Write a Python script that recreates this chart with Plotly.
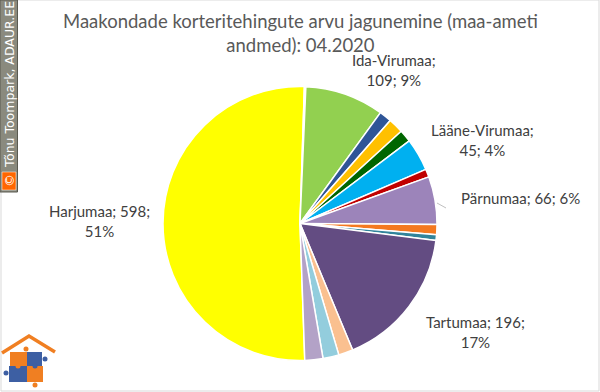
import plotly.graph_objects as go

# ---- data ----
counties = ["Harjumaa", "Hiiumaa", "Ida-Virumaa", "Jõgevamaa", "Järvamaa", "Läänemaa",
            "Lääne-Virumaa", "Põlvamaa", "Pärnumaa", "Raplamaa", "Saaremaa", "Tartumaa",
            "Valgamaa", "Viljandimaa", "Võrumaa"]
deals = [598, 2, 109, 17, 21, 17, 45, 11, 66, 14, 8, 196, 20, 22, 25]
labelled = ["Harjumaa", "Ida-Virumaa", "Lääne-Virumaa", "Pärnumaa", "Tartumaa"]
title_text = "Maakondade korteritehingute arvu jagunemine (maa-ameti<br>andmed): 04.2020"
credit_text = "Tõnu Toompark, ADAUR.EE"

# ---- style ----
colors = ["#FFFF00", "#FFFFFF", "#92D050", "#2F5597", "#FFC000", "#006600",
          "#00B0F0", "#C00000", "#9C84BA", "#F47920", "#31849B", "#634C82",
          "#FAC090", "#93CDDD", "#B3A2C7"]

W, H = 600, 392
def px(x): return x / W
def py(y): return 1 - y / H

total = sum(deals)
def pct(v): return round(v / total * 100)

# label layout: (center x, center y, break after name?, break after value?)
label_pos = {
    "Harjumaa": (99.5, 221, False, True),
    "Ida-Virumaa": (394, 70, True, False),
    "Lääne-Virumaa": (482, 140, True, False),
    "Pärnumaa": (520, 198, False, False),
    "Tartumaa": (475, 332, False, True),
}

fig = go.Figure()
fig.add_trace(go.Pie(
    labels=counties, values=deals, sort=False, direction="clockwise", rotation=178,
    marker=dict(colors=colors, line=dict(color="white", width=1.5)),
    textinfo="none", hoverinfo="label+value+percent",
    domain=dict(x=[px(163), px(437)], y=[py(361), py(86)]),
    showlegend=False,
))

annotations = [dict(
    text=title_text, x=px(300), y=py(33), xref="paper", yref="paper",
    xanchor="center", yanchor="middle", showarrow=False,
    font=dict(family="Lato", size=18.5, color="#595959"))]

for name in labelled:
    v = deals[counties.index(name)]
    cx, cy, b1, b2 = label_pos[name]
    s1 = "<br>" if b1 else " "
    s2 = "<br>" if b2 else " "
    txt = f"{name};{s1}{v};{s2}{pct(v)}%"
    annotations.append(dict(
        text=txt, x=px(cx), y=py(cy), xref="paper", yref="paper",
        xanchor="center", yanchor="middle", showarrow=False, align="center",
        font=dict(family="Lato", size=15, color="#404040")))

annotations.append(dict(
    text=credit_text, x=px(9), y=py(85), xref="paper", yref="paper", textangle=-90,
    xanchor="center", yanchor="middle", showarrow=False,
    font=dict(family="DejaVu Sans", size=12.5, color="white")))
annotations.append(dict(
    text="©", x=px(9), y=py(181), xref="paper", yref="paper", textangle=-90,
    xanchor="center", yanchor="middle", showarrow=False,
    font=dict(family="DejaVu Sans", size=13, color="white")))

shapes = [
    # outer border
    dict(type="rect", x0=px(1), x1=px(599), y0=py(391), y1=py(0), xref="paper", yref="paper",
         line=dict(color="#D9D9D9", width=1), fillcolor="rgba(0,0,0,0)"),
    # credit panel
    dict(type="rect", x0=px(0), x1=px(17.5), y0=py(192), y1=py(0), xref="paper", yref="paper",
         line=dict(color="#5a5a50", width=1), fillcolor="#8A8A7E"),
    dict(type="rect", x0=px(2), x1=px(16), y0=py(190), y1=py(172), xref="paper", yref="paper",
         line=dict(color="#FFFFFF", width=0.5), fillcolor="#FF6600"),
    # Pärnu leader
    dict(type="line", x0=px(437), y0=py(203), x1=px(446), y1=py(208), xref="paper", yref="paper",
         line=dict(color="#BFBFBF", width=1)),
    # logo roof
    dict(type="path", path=f"M {px(2)} {py(353)} L {px(29)} {py(336)} L {px(55)} {py(352)}",
         xref="paper", yref="paper", line=dict(color="#F07F22", width=3.5)),
]
# logo puzzle squares
for (x0, y0, x1, y1, c) in [(10, 352, 27, 366, "#F07F22"), (27, 352, 42, 366, "#3D5FA3"),
                            (9, 366, 27, 382, "#3D5FA3"), (27, 366, 43, 382, "#F07F22")]:
    shapes.append(dict(type="rect", x0=px(x0), x1=px(x1), y0=py(y1), y1=py(y0),
                       xref="paper", yref="paper", line=dict(width=0), fillcolor=c))
for (cx, cy, c) in [(26, 349, "#F07F22"), (45, 359, "#3D5FA3"), (6, 373, "#3D5FA3"),
                    (35, 385, "#F07F22"), (18, 366, "#F07F22"), (35, 366, "#3D5FA3")]:
    shapes.append(dict(type="circle", x0=px(cx - 2.5), x1=px(cx + 2.5), y0=py(cy + 2.5), y1=py(cy - 2.5),
                       xref="paper", yref="paper", line=dict(width=0), fillcolor=c))

fig.update_layout(
    width=W, height=H, margin=dict(l=0, r=0, t=0, b=0),
    paper_bgcolor="white", plot_bgcolor="white",
    annotations=annotations, shapes=shapes,
)
fig.write_html("out.html", config={"displayModeBar": False},
               post_script="document.body.style.margin='0';document.body.style.overflow='hidden';")
